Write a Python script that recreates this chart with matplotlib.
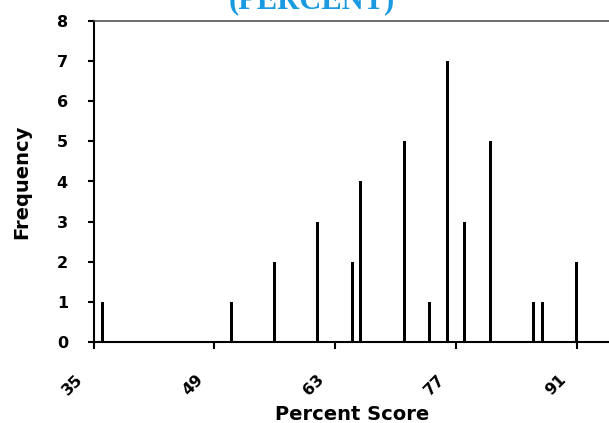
import matplotlib
matplotlib.use('Agg')
import matplotlib.pyplot as plt
import matplotlib.transforms as mtransforms

# percent scores and how often each occurred
scores = [36, 51, 56, 61, 65, 66, 71, 74, 76, 78, 81, 86, 87, 91]
counts = [1, 1, 2, 3, 2, 4, 5, 1, 7, 3, 5, 1, 1, 2]
x_ticks = [35, 49, 63, 77, 91]
y_ticks = [0, 1, 2, 3, 4, 5, 6, 7, 8]

TITLE = '(PERCENT)'
TITLE_COLOR = '#1a9be0'


def plot_scores():
    fig = plt.figure(figsize=(6.09, 4.23), dpi=100)
    # axes box in figure fractions (figure is 609 x 423 px)
    ax = fig.add_axes([93.6 / 609, 81 / 423, 517.4 / 609, 321 / 423])

    ax.bar(scores, counts, width=0.35, color='black', linewidth=0)

    ax.set_xlim(35, 95)
    ax.set_ylim(0, 8)
    ax.set_xticks(x_ticks)
    ax.set_yticks(y_ticks)
    ax.set_xticklabels([str(t) for t in x_ticks])
    ax.set_yticklabels([str(t) for t in y_ticks])

    for side in ['left', 'bottom']:
        ax.spines[side].set_linewidth(1.5)
        ax.spines[side].set_color('black')
    ax.spines['top'].set_linewidth(1.1)
    ax.spines['top'].set_color('#444444')
    ax.spines['right'].set_visible(False)

    ax.tick_params(axis='y', length=4.5, width=1.5, pad=14,
                   labelsize=11.5)
    ax.tick_params(axis='x', length=5, width=1.5, pad=26,
                   labelsize=11.5)
    for lbl in ax.get_yticklabels():
        lbl.set_fontweight('bold')
    shift = mtransforms.ScaledTranslation(-21 / 100, 0, fig.dpi_scale_trans)
    for lbl in ax.get_xticklabels():
        lbl.set_fontweight('bold')
        lbl.set_rotation(45)
        lbl.set_ha('center')
        lbl.set_va('center')
        lbl.set_rotation_mode('anchor')
        lbl.set_transform(lbl.get_transform() + shift)

    ax.set_xlabel('Percent Score', fontsize=14, fontweight='bold',
                  va='baseline')
    ax.xaxis.set_label_coords(0.5, (342 - 420) / 321)
    ax.set_ylabel('Frequency', fontsize=14, fontweight='bold', va='center')
    ax.yaxis.set_label_coords((22 - 93.6) / 517.4, 0.5)

    # title sits mostly above the top edge of the picture
    fig.text(312 / 609, 1 - 8 / 423, TITLE, color=TITLE_COLOR,
             fontsize=22, fontweight='bold', family='Liberation Serif',
             ha='center', va='baseline')

    fig.savefig('out.png', dpi=100)
    plt.close(fig)


if __name__ == '__main__':
    plot_scores()
